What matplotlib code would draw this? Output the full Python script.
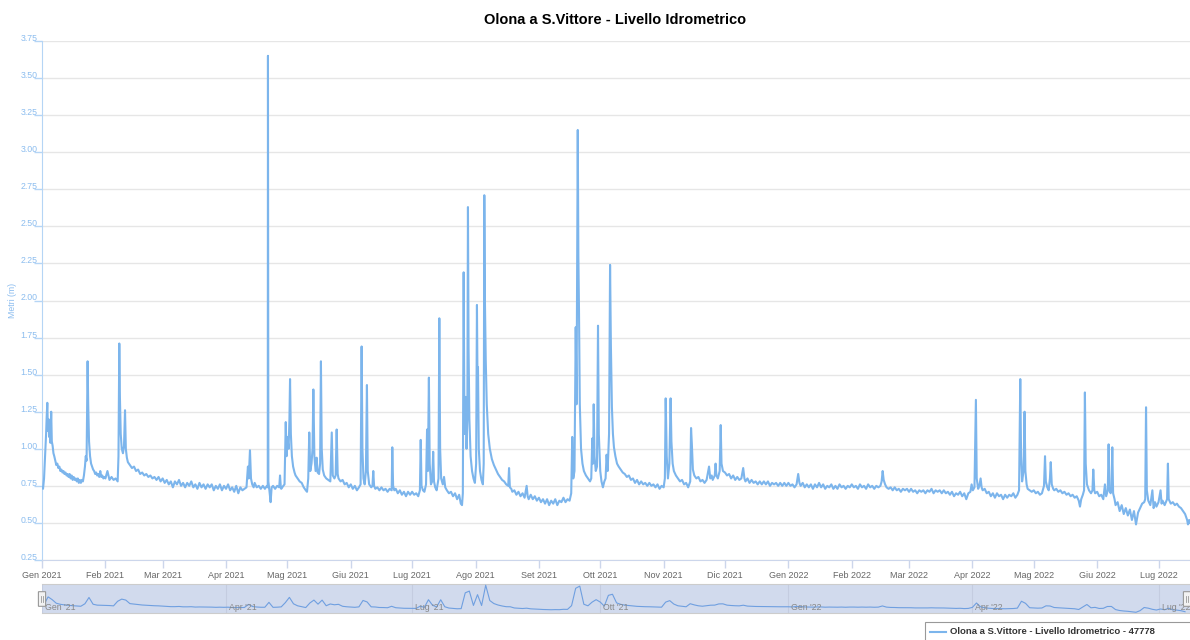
import matplotlib
matplotlib.use("Agg")
import matplotlib.pyplot as plt
from matplotlib.patches import Rectangle, FancyBboxPatch
from matplotlib.lines import Line2D
import numpy as np
import pandas as pd

plt.rcParams['font.family'] = ['Liberation Sans', 'DejaVu Sans']

# livello idrometrico: (giorni dal 1 gen 2021, metri)
gen21 = [(0.0, 0.74), (0.5, 0.73), (1.0, 0.80), (1.5, 0.95), (2.0, 1.10), (2.3, 1.22), (2.6, 1.31),
         (2.9, 1.12), (3.2, 1.20), (3.5, 1.08), (3.8, 1.15), (4.1, 1.04), (4.5, 1.25), (4.8, 1.05),
         (5.2, 1.02), (5.6, 0.97), (6.0, 0.95), (6.5, 0.92), (7.0, 0.89), (7.5, 0.90), (8.0, 0.87),
         (8.5, 0.88), (9.0, 0.85), (9.5, 0.86), (10, 0.84), (10.5, 0.85), (11, 0.83), (11.5, 0.84),
         (12, 0.82), (12.5, 0.83), (13, 0.81), (13.5, 0.83), (14, 0.80), (14.5, 0.82), (15, 0.79),
         (15.5, 0.81), (16, 0.79), (16.5, 0.80), (17, 0.78), (17.5, 0.80), (18, 0.77), (18.5, 0.79),
         (19, 0.77), (19.5, 0.79), (20, 0.78), (20.5, 0.82), (21, 0.88), (21.4, 0.95), (21.8, 0.92),
         (22.3, 1.59), (22.6, 1.30), (23.0, 1.05), (23.5, 0.95), (24, 0.90), (24.5, 0.88), (25, 0.86),
         (25.5, 0.85), (26, 0.83), (26.5, 0.84), (27, 0.82), (27.5, 0.83), (28, 0.81), (28.5, 0.85),
         (29, 0.81), (29.5, 0.82), (30, 0.80), (30.5, 0.81)]
feb21 = [(31, 0.80), (32, 0.85), (33, 0.79), (34, 0.81), (35, 0.79), (36, 0.80), (37, 0.78),
         (37.4, 0.95), (37.8, 1.71), (38.1, 1.35), (38.5, 1.10), (39, 1.00), (39.6, 0.97), (40.1, 1.02),
         (40.6, 1.26), (41.0, 1.00), (41.5, 0.94), (42, 0.91), (43, 0.89), (44, 0.87), (45, 0.88),
         (46, 0.85), (47, 0.86), (48, 0.83), (49, 0.84), (50, 0.82), (51, 0.83), (52, 0.81), (53, 0.82),
         (54, 0.80), (55, 0.81), (56, 0.79), (57, 0.81), (58, 0.78)]
mar21 = [(59, 0.80), (60, 0.77), (61, 0.79), (62, 0.76), (63, 0.78), (64, 0.74), (65, 0.78), (66, 0.76),
         (67, 0.79), (68, 0.75), (69, 0.77), (70, 0.74), (71, 0.77), (72, 0.75), (73, 0.78), (74, 0.74),
         (75, 0.76), (76, 0.73), (77, 0.77), (78, 0.74), (79, 0.76), (80, 0.73), (81, 0.76), (82, 0.74),
         (83, 0.76), (84, 0.72), (85, 0.75), (86, 0.73), (87, 0.76), (88, 0.72), (89, 0.75)]
apr21 = [(90, 0.73), (91, 0.76), (92, 0.72), (93, 0.74), (94, 0.71), (95, 0.75), (96, 0.70), (97, 0.74),
         (98, 0.72), (99, 0.73), (100.0, 0.74), (100.7, 0.88), (101.1, 0.80), (101.7, 0.99), (102.2, 0.80),
         (102.8, 0.76), (103.5, 0.74), (104, 0.77), (105, 0.74), (106, 0.75), (107, 0.73), (108, 0.75),
         (109, 0.73), (110, 0.75), (110.4, 0.74), (110.5, 3.65), (110.7, 0.78), (111.2, 0.72),
         (111.8, 0.64), (112.3, 0.74), (113, 0.75), (114, 0.73), (115, 0.75), (116, 0.74), (116.4, 0.82),
         (116.8, 0.74), (117, 0.73), (118, 0.75), (118.6, 0.76), (119.2, 1.18), (119.6, 0.95)]
mag21 = [(120.0, 1.08), (120.6, 1.00), (121.0, 1.20), (121.3, 1.47), (121.7, 1.10), (122.2, 0.95),
         (122.8, 0.88), (123.5, 0.84), (124, 0.82), (125, 0.80), (126, 0.78), (127, 0.77), (128, 0.74),
         (129, 0.72), (129.6, 0.71), (130.2, 0.80), (130.7, 1.11), (131.2, 0.85), (131.8, 0.90),
         (132.3, 1.00), (132.7, 1.40), (133.2, 0.95), (133.8, 0.85), (134.3, 0.94), (134.8, 0.84),
         (135.5, 0.83), (136.0, 0.90), (136.4, 1.59), (136.8, 1.00), (137.3, 0.86), (138, 0.82),
         (139, 0.80), (140, 0.79), (141, 0.78), (141.7, 1.11), (142.2, 0.82), (143, 0.80), (143.6, 0.82),
         (144.1, 1.13), (144.6, 0.83), (145, 0.80), (146, 0.78), (147, 0.79), (148, 0.76), (149, 0.77),
         (150, 0.74)]
giu21 = [(151, 0.76), (152, 0.73), (153, 0.75), (154, 0.72), (155, 0.74), (155.8, 0.76), (156.3, 1.69),
         (156.7, 1.00), (157.2, 0.80), (157.8, 0.76), (158.4, 0.85), (158.9, 1.43), (159.3, 0.85),
         (160, 0.76), (161, 0.74), (161.6, 0.75), (162.0, 0.85), (162.4, 0.75), (163, 0.73), (164, 0.74),
         (165, 0.72), (166, 0.74), (167, 0.72), (168, 0.73), (169, 0.71), (170, 0.73), (171.0, 0.72),
         (171.3, 1.01), (171.7, 0.75), (172.3, 0.72), (173, 0.73), (174, 0.70), (175, 0.72), (176, 0.69),
         (177, 0.71), (178, 0.68), (179, 0.71), (180, 0.69)]
lug21 = [(181, 0.71), (182, 0.69), (183, 0.70), (184, 0.68), (184.8, 0.72), (185.2, 1.06), (185.6, 0.75),
         (186.3, 0.72), (187, 0.71), (187.8, 0.76), (188.3, 1.13), (188.7, 0.85), (189.2, 1.48),
         (189.6, 0.90), (190.2, 0.76), (190.8, 0.78), (191.3, 0.98), (191.7, 0.78), (192.3, 0.74),
         (193, 0.72), (193.9, 0.80), (194.3, 1.88), (194.7, 1.00), (195.2, 0.80), (196, 0.76),
         (196.6, 0.81), (197.2, 0.74), (198, 0.72), (199, 0.70), (200, 0.71), (201, 0.68), (202, 0.70),
         (203, 0.66), (204, 0.69), (204.8, 0.63), (205.4, 0.62), (205.8, 0.70), (206.2, 2.19),
         (206.6, 1.10), (207.2, 1.35), (207.6, 1.00), (208.0, 1.20), (208.3, 2.63), (208.6, 1.68),
         (209.0, 1.20), (209.6, 0.95), (210.3, 0.85), (211.0, 0.80), (211.7, 0.77)]
ago21 = [(212.3, 0.90), (212.7, 1.97), (213.0, 1.40), (213.2, 1.55), (213.6, 1.00), (214.2, 0.85),
         (214.9, 0.79), (215.6, 0.76), (216.0, 0.90), (216.3, 2.71), (216.6, 2.00), (217.0, 1.60),
         (217.5, 1.30), (218.2, 1.10), (219, 1.00), (220, 0.93), (221, 0.89), (222, 0.86), (223, 0.83),
         (224, 0.81), (225, 0.79), (226, 0.78), (227, 0.76), (228, 0.75), (228.4, 0.87), (228.8, 0.74),
         (229.5, 0.73), (230, 0.71), (231, 0.72), (232, 0.69), (233, 0.71), (234, 0.68), (235, 0.70),
         (236, 0.67), (237, 0.75), (237.5, 0.68), (238, 0.66), (239, 0.69), (240, 0.66), (241, 0.68),
         (242, 0.65)]
set21 = [(243, 0.67), (244, 0.64), (245, 0.66), (246, 0.63), (247, 0.66), (248, 0.62), (249, 0.65),
         (250, 0.63), (251, 0.66), (252, 0.62), (253, 0.65), (254, 0.64), (255, 0.67), (256, 0.64),
         (257, 0.66), (258, 0.65), (258.8, 0.70), (259.3, 1.08), (259.8, 0.80), (260.4, 0.85),
         (261.0, 1.82), (261.4, 1.30), (262.0, 3.15), (262.3, 2.30), (262.6, 1.94), (263.0, 1.30),
         (263.6, 1.00), (264.3, 0.90), (265.0, 0.85), (266, 0.82), (267, 0.80), (268, 0.78), (268.6, 0.80),
         (269.1, 1.07), (269.5, 0.90), (269.8, 1.30), (270.2, 0.95), (270.8, 0.85), (271.4, 0.88),
         (271.9, 1.83), (272.3, 1.10)]
ott21 = [(273.0, 0.85), (273.6, 0.78), (274.3, 0.74), (275.0, 0.78), (275.6, 0.80), (276.1, 0.96),
         (276.6, 0.85), (277.3, 1.10), (277.8, 2.24), (278.2, 1.70), (278.7, 1.28), (279.2, 1.10),
         (279.7, 1.01), (280.4, 0.95), (281.2, 0.90), (282, 0.88), (283, 0.86), (284, 0.84), (285, 0.83),
         (286, 0.81), (287, 0.82), (288, 0.79), (289, 0.80), (290, 0.77), (291, 0.79), (292, 0.76),
         (293, 0.78), (294, 0.76), (295, 0.77), (296, 0.75), (297, 0.77), (298, 0.75), (299, 0.76),
         (300, 0.74), (301, 0.76), (302, 0.73), (303, 0.75)]
nov21 = [(304, 0.74), (304.6, 0.80), (305.0, 1.34), (305.5, 0.95), (306.1, 0.80), (306.8, 0.90),
         (307.4, 1.34), (307.8, 1.05), (308.4, 0.90), (309, 0.85), (310, 0.82), (311, 0.80), (312, 0.78),
         (313, 0.79), (314, 0.76), (315, 0.77), (316, 0.74), (317.0, 0.78), (317.4, 1.14), (317.8, 1.03),
         (318.3, 0.86), (319, 0.82), (320, 0.80), (321, 0.81), (322, 0.78), (323, 0.79), (324, 0.77),
         (325, 0.79), (326.2, 0.88), (326.8, 0.80), (327.5, 0.82), (328, 0.79), (329.0, 0.82),
         (329.4, 0.90), (329.8, 0.82), (330.5, 0.80), (331.4, 0.85), (331.9, 1.16), (332.3, 0.90),
         (333, 0.85)]
dic21 = [(334, 0.84), (335, 0.82), (336, 0.83), (337, 0.80), (338, 0.82), (339, 0.79), (340, 0.81),
         (341, 0.79), (342, 0.80), (342.9, 0.87), (343.5, 0.80), (344, 0.78), (345, 0.80), (346, 0.77),
         (347, 0.79), (348, 0.77), (349, 0.78), (350, 0.76), (351, 0.78), (352, 0.76), (353, 0.78),
         (354, 0.76), (355, 0.78), (356, 0.75), (357, 0.77), (358, 0.76), (359, 0.77), (360, 0.75),
         (361, 0.77), (362, 0.75), (363, 0.77), (364, 0.75)]
gen22 = [(365, 0.77), (366, 0.75), (367, 0.76), (368, 0.74), (369, 0.76), (369.8, 0.83), (370.4, 0.77),
         (371, 0.75), (372, 0.77), (373, 0.74), (374, 0.76), (375, 0.74), (376, 0.76), (377, 0.73),
         (378, 0.76), (379, 0.74), (380, 0.77), (381, 0.74), (382, 0.76), (383, 0.73), (384, 0.75),
         (385, 0.74), (386, 0.76), (387, 0.73), (388, 0.75), (389, 0.73), (390, 0.76), (391, 0.74),
         (392, 0.75), (393, 0.73), (394, 0.75), (395, 0.74)]
feb22 = [(396, 0.76), (397, 0.74), (398, 0.75), (399, 0.73), (400, 0.76), (401, 0.74), (402, 0.75),
         (403, 0.73), (404, 0.76), (405, 0.74), (406, 0.75), (407, 0.73), (408, 0.75), (409, 0.74),
         (410, 0.75), (410.6, 0.78), (411.1, 0.85), (411.6, 0.79), (412.3, 0.76), (413, 0.74), (414, 0.73),
         (415, 0.74), (416, 0.72), (417, 0.74), (418, 0.72), (419, 0.73), (420, 0.71), (421, 0.73),
         (422, 0.72), (423, 0.73)]
mar22 = [(424, 0.71), (425, 0.73), (426, 0.71), (427, 0.72), (428, 0.70), (429, 0.72), (430, 0.71),
         (431, 0.72), (432, 0.70), (433, 0.72), (434, 0.71), (435, 0.73), (436, 0.70), (437, 0.72),
         (438, 0.71), (439, 0.72), (440, 0.70), (441, 0.72), (442, 0.70), (443, 0.71), (444, 0.69),
         (445, 0.71), (446, 0.68), (447, 0.70), (448, 0.69), (449, 0.71), (450, 0.68), (451, 0.70),
         (452, 0.66), (453, 0.70), (454, 0.71)]
apr22 = [(454.6, 0.76), (455.2, 0.72), (456.0, 0.74), (456.7, 1.33), (457.1, 0.80), (457.8, 0.73),
         (458.4, 0.75), (459.0, 0.80), (459.5, 0.74), (460, 0.72), (461, 0.73), (462, 0.70), (463, 0.71),
         (464, 0.68), (465, 0.70), (466, 0.67), (467, 0.70), (468, 0.68), (469, 0.69), (470, 0.66),
         (471, 0.69), (472, 0.67), (473, 0.69), (474, 0.68), (475, 0.70), (476, 0.67), (477, 0.69),
         (477.8, 0.72), (478.4, 1.47), (478.8, 0.95), (479.3, 0.78), (480.0, 0.85), (480.5, 1.25),
         (480.9, 0.85), (481.5, 0.76), (482, 0.73), (483, 0.72), (484, 0.71)]
mag22 = [(485, 0.72), (486, 0.70), (487, 0.71), (488, 0.69), (489, 0.70), (490.0, 0.75), (490.5, 0.95),
         (490.9, 0.78), (491.6, 0.74), (492.3, 0.72), (492.9, 0.80), (493.3, 0.91), (493.8, 0.76),
         (494.5, 0.73), (495, 0.72), (496, 0.73), (497, 0.71), (498, 0.72), (499, 0.70), (500, 0.71),
         (501, 0.69), (502, 0.70), (503, 0.68), (504, 0.69), (505, 0.67), (506, 0.68), (507, 0.65),
         (507.6, 0.61), (508.2, 0.66), (509, 0.69), (509.6, 0.72), (510.0, 1.38), (510.4, 0.90),
         (511, 0.76), (512, 0.72), (513, 0.70), (513.7, 0.72), (514.1, 0.86), (514.6, 0.72), (515, 0.70)]
giu22 = [(516, 0.71), (517, 0.68), (518, 0.69), (519, 0.66), (519.8, 0.76), (520.4, 0.68), (521.2, 0.72),
         (521.6, 1.03), (522.0, 0.72), (522.6, 0.70), (523.0, 0.74), (523.4, 1.01), (523.8, 0.70),
         (524.5, 0.66), (525, 0.62), (526, 0.64), (527, 0.58), (528, 0.62), (529, 0.56), (530, 0.60),
         (531, 0.55), (532, 0.59), (533, 0.52), (534, 0.58), (535, 0.49), (536, 0.57), (537, 0.60),
         (538, 0.63), (539, 0.64), (539.5, 0.66), (539.9, 1.28), (540.3, 0.72), (541, 0.65), (542, 0.62),
         (543, 0.72), (543.6, 0.60), (544.3, 0.64), (545, 0.61)]
lug22 = [(546, 0.64), (547, 0.72), (547.5, 0.63), (548, 0.65), (549, 0.62), (550.2, 0.66), (550.6, 0.90),
         (551.0, 0.66), (552, 0.63), (553, 0.64), (554, 0.62), (555, 0.63), (556, 0.61), (557, 0.60),
         (558, 0.58), (559, 0.56), (560.0, 0.52), (560.4, 0.49), (561.0, 0.52), (561.5, 0.50)]

etichette_mesi = ['Gen 2021', 'Feb 2021', 'Mar 2021', 'Apr 2021', 'Mag 2021', 'Giu 2021', 'Lug 2021',
                  'Ago 2021', 'Set 2021', 'Ott 2021', 'Nov 2021', 'Dic 2021', 'Gen 2022', 'Feb 2022',
                  'Mar 2022', 'Apr 2022', 'Mag 2022', 'Giu 2022', 'Lug 2022']
etichette_nav = ["Gen '21", "Apr '21", "Lug '21", "Ott '21", "Gen '22", "Apr '22", "Lug '22"]
livelli_y = [0.25, 0.50, 0.75, 1.00, 1.25, 1.50, 1.75, 2.00, 2.25, 2.50, 2.75, 3.00, 3.25, 3.50, 3.75]

serie = gen21 + feb21 + mar21 + apr21 + mag21 + giu21 + lug21 + ago21 + set21 + ott21 + nov21 + \
    dic21 + gen22 + feb22 + mar22 + apr22 + mag22 + giu22 + lug22
giorni = np.array([p[0] for p in serie])
livello = np.array([p[1] for p in serie])

inizio = pd.Timestamp('2021-01-01')
date = inizio + pd.to_timedelta(giorni, unit='D')
x_fine = inizio + pd.Timedelta(days=561.4)

colore = '#7cb5ec'
asse_blu = '#b5d5f5'

fig = plt.figure(figsize=(11.9, 6.4), dpi=100)
W, H = 1190, 640

# grafico principale
ax = fig.add_axes([42 / W, 1 - 560 / H, 1 - 42 / W, (560 - 41) / H])
ax.plot(date, livello, color=colore, lw=1.5, zorder=3)
ax.set_ylim(0.25, 3.75)
ax.set_xlim(inizio, x_fine)
ax.set_yticks(livelli_y)
ax.set_yticklabels(['%.2f' % v for v in livelli_y])
ax.grid(axis='y', color='#e6e6e6', lw=1)
ax.set_axisbelow(True)

mesi = pd.date_range('2021-01-01', '2022-07-01', freq='MS')
ax.set_xticks(mesi)
ax.set_xticklabels(etichette_mesi)
for s in ['top', 'right']:
    ax.spines[s].set_visible(False)
ax.spines['left'].set_color(asse_blu)
ax.spines['bottom'].set_color('#ccd6eb')
ax.tick_params(axis='x', colors='#ccd6eb', labelcolor='#666666', labelsize=6.5, length=6, width=1, pad=2)
ax.tick_params(axis='y', colors=asse_blu, labelcolor='#8cbdef', labelsize=6.3, length=6, width=1, pad=-3)
for t in ax.get_yticklabels():
    t.set_verticalalignment('baseline')
ax.set_ylabel('Metri (m)', color='#8cbdef', fontsize=6.3, labelpad=6)
ax.yaxis.set_label_coords(-25 / (W - 42), 0.5)

fig.text(615 / W, 1 - 20 / H, 'Olona a S.Vittore - Livello Idrometrico', ha='center', va='center',
         fontsize=10.5, fontweight='bold', color='#000000')

# navigatore (media per gruppi di 2 giorni, come il dataGrouping)
ore = np.arange(0, 561.4, 1 / 24)
v_ore = np.interp(ore, giorni, livello)
n = 48
k = len(ore) // n
g_x = ore[:k * n].reshape(k, n).mean(axis=1)
g_v = v_ore[:k * n].reshape(k, n).mean(axis=1)

nav = fig.add_axes([42 / W, 1 - 613 / H, 1 - 42 / W, 29 / H])
nav.set_facecolor('#d1daed')
nav.plot(inizio + pd.to_timedelta(g_x, unit='D'), g_v, color='#6f9fe0', lw=0.8, zorder=3)
nav.set_xlim(inizio, x_fine)
nav.set_ylim(g_v.min() - 0.03, g_v.max() + 0.05)
nav.set_yticks([])
trimestri = pd.date_range('2021-01-01', '2022-07-01', freq='QS')
nav.set_xticks(trimestri)
nav.set_xticklabels([])
nav.tick_params(axis='x', length=0)
nav.grid(axis='x', color='#c4cce0', lw=0.8)
for d, lab in zip(trimestri, etichette_nav):
    nav.text(d + pd.Timedelta(days=1.5), 0.2, lab, transform=nav.get_xaxis_transform(),
             fontsize=6.3, color='#888888', va='center', ha='left', zorder=4)
for s in ['left', 'right']:
    nav.spines[s].set_visible(False)
nav.spines['top'].set_color('#cccccc')
nav.spines['bottom'].set_color('#cccccc')

# maniglie del navigatore
for xh in [42, 1187]:
    fig.patches.append(FancyBboxPatch(((xh - 3) / W, 1 - 606 / H), 6 / W, 14 / H,
                                      boxstyle='round,pad=0.0005', transform=fig.transFigure,
                                      facecolor='#f2f2f2', edgecolor='#999999', lw=0.8, zorder=5))
    for dx in [-1, 1]:
        fig.lines.append(Line2D([(xh + dx) / W] * 2, [1 - 602 / H, 1 - 596 / H],
                                transform=fig.transFigure, color='#999999', lw=0.6, zorder=6))

# legenda
fig.patches.append(Rectangle((925 / W, 1 - 645 / H), 300 / W, 23 / H, transform=fig.transFigure,
                             facecolor='white', edgecolor='#999999', lw=0.8))
fig.lines.append(Line2D([930 / W, 946 / W], [1 - 632 / H] * 2, transform=fig.transFigure,
                        color=colore, lw=1.5))
fig.text(950 / W, 1 - 632 / H, 'Olona a S.Vittore - Livello Idrometrico - 47778', fontsize=6.8,
         fontweight='bold', color='#333333', va='center', ha='left')

fig.savefig('out.png', dpi=100)
